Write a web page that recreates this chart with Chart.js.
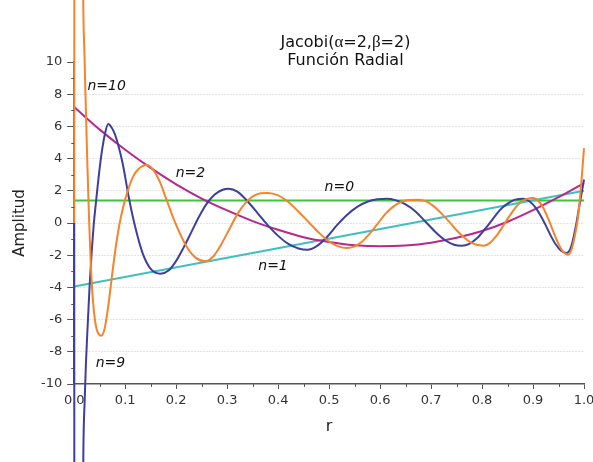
<!DOCTYPE html>
<html>
<head>
<meta charset="utf-8">
<script src="https://cdn.jsdelivr.net/npm/chart.js@4.4.1/dist/chart.umd.min.js"></script>
<style>
  html, body { margin: 0; padding: 0; background: #fff; overflow: hidden; }
  #wrap { width: 593px; height: 462px; }
</style>
</head>
<body>
<div id="wrap"><canvas id="radial"></canvas></div>
<script>
// values (r on x, amplitude on y)
var n0R = [0, 1];
var n0V = [1.4, 1.4];

var n1R = [0, 1];
var n1V = [-3.95, 2.0];

var n2R = [0, 0.05, 0.1, 0.15, 0.2, 0.25, 0.3, 0.35, 0.4, 0.45, 0.5,
           0.55, 0.6, 0.65, 0.7, 0.75, 0.8, 0.85, 0.9, 0.95, 1.0];
var n2V = [7.2, 5.8, 4.55, 3.42, 2.4, 1.52, 0.78, 0.12, -0.42, -0.88, -1.18,
           -1.38, -1.45, -1.4, -1.22, -0.92, -0.5, 0.08, 0.8, 1.6, 2.48];

// n=9 dives far below the frame right at r=0
var n9R = [0, 0.0004, 0.008, 0.0165, 0.018, 0.0205, 0.023, 0.026, 0.03, 0.034,
           0.038, 0.043, 0.048, 0.054, 0.06, 0.0666, 0.073, 0.08, 0.095, 0.107,
           0.12, 0.135, 0.15, 0.169, 0.185, 0.2, 0.215, 0.23, 0.245, 0.26,
           0.275, 0.29, 0.303, 0.32, 0.34, 0.36, 0.38, 0.4, 0.42, 0.44,
           0.457, 0.475, 0.495, 0.515, 0.535, 0.555, 0.575, 0.595, 0.613, 0.63,
           0.65, 0.67, 0.69, 0.71, 0.73, 0.745, 0.76, 0.775, 0.79, 0.805,
           0.82, 0.835, 0.85, 0.865, 0.881, 0.893, 0.905, 0.915, 0.925, 0.935,
           0.945, 0.955, 0.966, 0.975, 0.984, 0.99, 0.995, 1.0];
var n9V = [0, -30, -60, -20, -14, -11, -8.7, -6.6, -4.0, -1.9,
           -0.2, 1.4, 2.9, 4.4, 5.5, 6.15, 5.95, 5.5, 3.7, 1.6,
           -0.3, -1.95, -2.85, -3.15, -2.95, -2.35, -1.5, -0.55, 0.4, 1.2,
           1.75, 2.05, 2.13, 1.95, 1.35, 0.6, -0.15, -0.8, -1.3, -1.58,
           -1.66, -1.45, -0.9, -0.15, 0.5, 1.0, 1.32, 1.47, 1.5, 1.42,
           1.15, 0.7, 0.05, -0.6, -1.12, -1.35, -1.41, -1.3, -0.95, -0.4,
           0.2, 0.8, 1.2, 1.45, 1.51, 1.35, 0.95, 0.45, -0.15, -0.8,
           -1.35, -1.72, -1.86, -1.45, -0.2, 0.9, 1.8, 2.7];

// n=10 shoots far above the frame right at r=0
var n10R = [0, 0.0004, 0.008, 0.016, 0.0178, 0.02, 0.0221, 0.025, 0.028, 0.0295,
            0.032, 0.0353, 0.039, 0.044, 0.0529, 0.06, 0.067, 0.074, 0.081, 0.088,
            0.096, 0.105, 0.115, 0.126, 0.142, 0.155, 0.168, 0.181, 0.195, 0.208,
            0.222, 0.238, 0.257, 0.272, 0.288, 0.304, 0.32, 0.336, 0.352, 0.366,
            0.38, 0.4, 0.42, 0.44, 0.46, 0.48, 0.5, 0.518, 0.535, 0.55,
            0.565, 0.58, 0.595, 0.61, 0.625, 0.64, 0.657, 0.675, 0.69, 0.705,
            0.72, 0.735, 0.75, 0.765, 0.78, 0.803, 0.815, 0.827, 0.839, 0.851,
            0.863, 0.876, 0.888, 0.901, 0.91, 0.92, 0.93, 0.94, 0.95, 0.96,
            0.969, 0.976, 0.982, 0.987, 0.992, 0.996, 1.0];
var n10V = [0, 30, 60, 22, 13.5, 10.6, 7.9, 4.5, 1.3, -0.1,
            -2.2, -4.2, -5.6, -6.6, -7.0, -6.5, -5.1, -3.3, -1.6, -0.2,
            1.0, 2.0, 2.85, 3.35, 3.6, 3.3, 2.55, 1.45, 0.25, -0.7,
            -1.55, -2.15, -2.38, -2.1, -1.35, -0.4, 0.55, 1.25, 1.68, 1.85,
            1.87, 1.72, 1.3, 0.7, 0.05, -0.6, -1.15, -1.45, -1.55, -1.45,
            -1.15, -0.65, -0.05, 0.55, 1.0, 1.3, 1.43, 1.45, 1.35, 1.05,
            0.6, 0.1, -0.45, -0.9, -1.25, -1.41, -1.25, -0.85, -0.3, 0.3,
            0.85, 1.3, 1.5, 1.55, 1.4, 0.95, 0.25, -0.55, -1.3, -1.82,
            -1.97, -1.6, -0.8, 0.1, 1.5, 3.0, 4.65];

var xTicks = [0, 0.1, 0.2, 0.3, 0.4, 0.5, 0.6, 0.7, 0.8, 0.9, 1.0];
var yTicks = [-10, -8, -6, -4, -2, 0, 2, 4, 6, 8, 10];

var titleLines = ['Jacobi(\u03b1=2,\u03b2=2)', 'Funci\u00f3n Radial'];

function pts(rs, vs) {
  return rs.map(function(r, i) { return {x: r, y: vs[i]}; });
}

function line(label, rs, vs, color) {
  return {
    label: label,
    data: pts(rs, vs),
    showLine: true,
    borderColor: color,
    backgroundColor: color,
    borderWidth: 2,
    pointRadius: 0,
    cubicInterpolationMode: 'monotone',
    capBezierPoints: false,
    clip: false
  };
}

// curve labels, anchored in data units (left edge, middle)
var tags = [
  {text: 'n=10', r: 0.026, v: 8.47},
  {text: 'n=2', r: 0.199, v: 3.06},
  {text: 'n=0', r: 0.491, v: 2.2},
  {text: 'n=1', r: 0.361, v: -2.7},
  {text: 'n=9', r: 0.042, v: -8.7}
];

var decor = {
  id: 'decor',
  afterDatasetsDraw: function(chart) {
    var ctx = chart.ctx, xs = chart.scales.x, ys = chart.scales.y, area = chart.chartArea;
    ctx.save();

    // minor ticks
    ctx.strokeStyle = '#555';
    ctx.lineWidth = 1;
    ctx.beginPath();
    for (var i = 0; i < xTicks.length - 1; i++) {
      var px = Math.round(xs.getPixelForValue((xTicks[i] + xTicks[i + 1]) / 2)) + 0.5;
      ctx.moveTo(px, area.bottom);
      ctx.lineTo(px, area.bottom + 3);
    }
    for (var j = 0; j < yTicks.length - 1; j++) {
      var py = Math.round(ys.getPixelForValue((yTicks[j] + yTicks[j + 1]) / 2)) + 0.5;
      ctx.moveTo(area.left, py);
      ctx.lineTo(area.left - 3, py);
    }
    ctx.stroke();

    // curve tags
    ctx.fillStyle = '#111';
    ctx.font = 'italic 14px "DejaVu Sans"';
    ctx.textAlign = 'left';
    ctx.textBaseline = 'middle';
    tags.forEach(function(t) {
      ctx.fillText(t.text, xs.getPixelForValue(t.r), ys.getPixelForValue(t.v));
    });

    // title inside the plot, greek letters in a serif face
    var cx = xs.getPixelForValue(0.532);
    var parts = [['Jacobi(', 'sans'], ['\u03b1', 'serif'], ['=2,', 'sans'], ['\u03b2', 'serif'], ['=2)', 'sans']];
    var fonts = {sans: '16px "DejaVu Sans"', serif: '17px "Liberation Serif"'};
    var total = 0;
    parts.forEach(function(p) { ctx.font = fonts[p[1]]; total += ctx.measureText(p[0]).width; });
    var x0 = cx - total / 2;
    var y1 = area.top - 19;
    parts.forEach(function(p) {
      ctx.font = fonts[p[1]];
      ctx.fillText(p[0], x0, y1);
      x0 += ctx.measureText(p[0]).width;
    });
    ctx.font = fonts.sans;
    ctx.textAlign = 'center';
    ctx.fillText(titleLines[1], cx, area.top - 1);
    ctx.restore();
  }
};

new Chart(document.getElementById('radial'), {
  type: 'scatter',
  data: {
    datasets: [
      line('n=10', n10R, n10V, '#f5842c'),
      line('n=9', n9R, n9V, '#3e3e9c'),
      line('n=2', n2R, n2V, '#b6288c'),
      line('n=1', n1R, n1V, '#3fbfbf'),
      line('n=0', n0R, n0V, '#3ec43e')
    ]
  },
  options: {
    responsive: true,
    maintainAspectRatio: false,
    animation: false,
    layout: { padding: { top: 62, right: 9, bottom: 0, left: 0 } },
    plugins: { legend: { display: false }, tooltip: { enabled: false } },
    scales: {
      x: {
        type: 'linear',
        min: 0,
        max: 1,
        afterBuildTicks: function(s) { s.ticks = xTicks.map(function(v) { return {value: v}; }); },
        afterFit: function(s) { s.paddingLeft = 0; s.paddingRight = 0; s.height = 78; },
        ticks: {
          callback: function(v) { return v.toFixed(1); },
          color: '#333',
          font: { family: 'DejaVu Sans', size: 13 },
          padding: 4,
          maxRotation: 0,
          autoSkip: false
        },
        grid: { drawOnChartArea: false, tickLength: 5, tickColor: '#555', tickWidth: 1 },
        border: { color: '#555', width: 1.5 },
        title: {
          display: true, text: 'r', color: '#222',
          font: { family: 'DejaVu Sans', size: 16 },
          padding: { top: 0, bottom: 26 }
        }
      },
      y: {
        min: -10,
        max: 10,
        afterBuildTicks: function(s) { s.ticks = yTicks.map(function(v) { return {value: v}; }); },
        ticks: {
          color: '#333',
          font: { family: 'DejaVu Sans', size: 13 },
          padding: 5,
          autoSkip: false
        },
        grid: {
          color: function(c) { return (c.tick && Math.abs(c.tick.value) < 10) ? '#c9c9c9' : 'rgba(0,0,0,0)'; },
          tickColor: '#555',
          tickLength: 7,
          tickWidth: 1
        },
        border: { color: '#555', width: 1.5, dash: [1, 2] },
        title: {
          display: true, text: 'Amplitud', color: '#222',
          font: { family: 'DejaVu Sans', size: 15 },
          padding: { top: 11, bottom: 7 }
        }
      }
    }
  },
  plugins: [decor]
});
</script>
</body>
</html>
